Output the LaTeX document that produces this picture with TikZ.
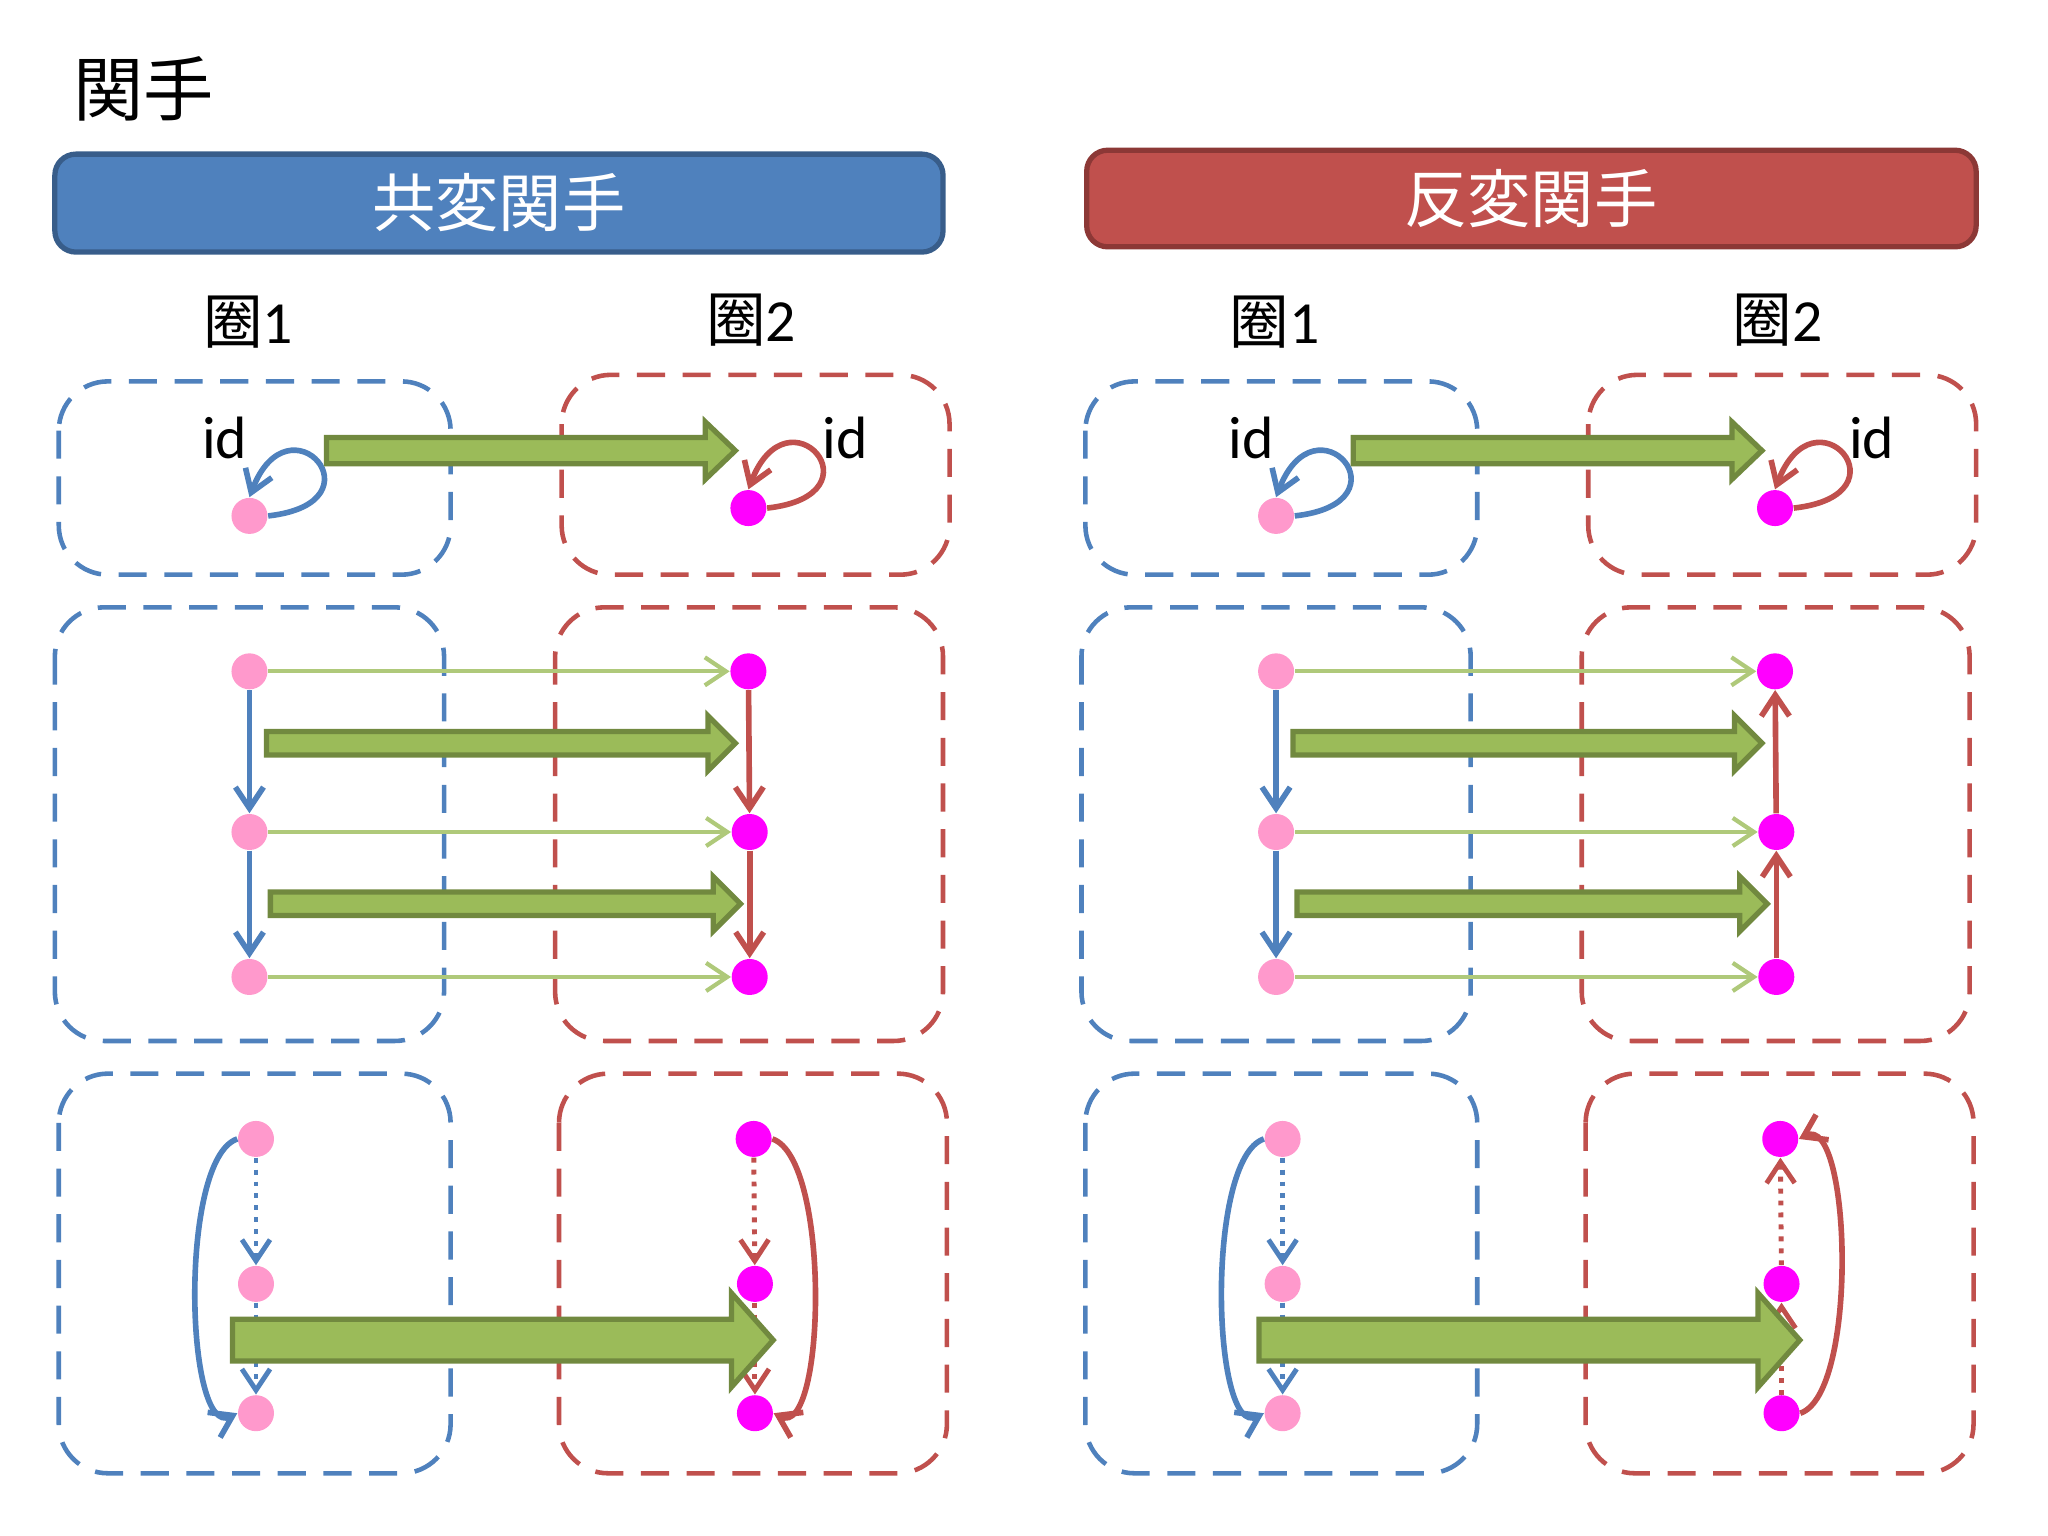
\documentclass[tikz,border=0pt]{standalone}
\usepackage{fontspec}
\setmainfont{Carlito}
\newfontfamily\cjk{Noto Sans CJK JP}
\usetikzlibrary{arrows.meta}
\definecolor{cblue}{HTML}{4F81BD}
\definecolor{cbluedk}{HTML}{385D8A}
\definecolor{cred}{HTML}{C0504D}
\definecolor{creddk}{HTML}{8C3836}
\definecolor{cgreen}{HTML}{9BBB59}
\definecolor{cgreendk}{HTML}{71893F}
\definecolor{cpink}{HTML}{FF99CC}
\definecolor{cmag}{HTML}{FF00FF}
\begin{document}
\begin{tikzpicture}[x=0.01306cm,y=-0.01306cm,
  box/.style={dashed,line width=1.3pt,rounded corners=14pt,dash pattern=on 8pt off 5pt},
  pdot/.style={circle,fill=cpink,inner sep=0pt,minimum size=0.36cm},
  mdot/.style={circle,fill=cmag,inner sep=0pt,minimum size=0.36cm},
  tip/.style={-{Straight Barb[length=6pt,width=8pt]}},
  thin/.style={tip,draw=cgreen!80,line width=1.2pt},
  fat/.style={fill=cgreen,draw=cgreendk,line width=1.5pt},
  lbl/.style={font=\fontsize{17}{17}\selectfont},
  head/.style={rounded corners=6pt,line width=1.5pt,text=white,font=\cjk\fontsize{18}{18}\selectfont}]
\useasboundingbox (0,0) rectangle (1568,1176);
\node[font=\cjk\fontsize{20}{20}\selectfont] (title) at (110,68) {関手};
\draw[head,fill=cblue,draw=cbluedk] (42,118) rectangle (722,193);
\node[head] (hco) at (382,155) {共変関手};
\draw[head,fill=cred,draw=creddk] (832,115) rectangle (1513,189);
\node[head] (hcontra) at (1172,152) {反変関手};
\foreach \o/\s/\k in {0/a/0,786/b/1}{
\begin{scope}[xshift=\o*0.01306cm]
  \node[lbl] (\s c1) at (190,247) {{\cjk 圈}1};
  \node[lbl] (\s c2) at (575,245) {{\cjk 圈}2};
  % boxes
  \draw[box,cblue] (45,292) rectangle (345,440);
  \draw[box,cred] (430,287) rectangle (727,440);
  \draw[box,cblue] (42,465) rectangle (340,797);
  \draw[box,cred] (425,465) rectangle (722,797);
  \draw[box,cblue] (45,822) rectangle (345,1128);
  \draw[box,cred] (428,822) rectangle (725,1128);
  % top row
  \node[pdot] (\s p0) at (191,395) {};
  \node[mdot] (\s m0) at (573,389) {};
  \node[lbl] (\s id1) at (172,335) {id};
  \node[lbl] (\s id2) at (647,335) {id};
  \draw[tip,cblue,line width=1.6pt] (\s p0.east) .. controls +(90,-10) and +(30,-80) .. (\s p0.north);
  \draw[tip,cred,line width=1.6pt] (\s m0.east) .. controls +(90,-10) and +(30,-80) .. (\s m0.north);
  \draw[fat] (250,335) -- (540,335) -- (540,323) -- (563,345) -- (540,367) -- (540,355) -- (250,355) -- cycle;
  % middle row
  \node[pdot] (\s p1) at (191,514) {};
  \node[pdot] (\s p2) at (191,637) {};
  \node[pdot] (\s p3) at (191,748) {};
  \node[mdot] (\s m1) at (573,514) {};
  \node[mdot] (\s m2) at (574,637) {};
  \node[mdot] (\s m3) at (574,748) {};
  \foreach \i in {1,2,3}{\draw[thin] (\s p\i) -- (\s m\i);}
  \draw[tip,cblue,line width=1.6pt] (\s p1) -- (\s p2);
  \draw[tip,cblue,line width=1.6pt] (\s p2) -- (\s p3);
  \ifnum\k=0
    \draw[tip,cred,line width=1.6pt] (\s m1) -- (\s m2);
    \draw[tip,cred,line width=1.6pt] (\s m2) -- (\s m3);
  \else
    \draw[tip,cred,line width=1.6pt] (\s m3) -- (\s m2);
    \draw[tip,cred,line width=1.6pt] (\s m2) -- (\s m1);
  \fi
  \draw[fat] (204,560) -- (542,560) -- (542,548) -- (563,569) -- (542,590) -- (542,578) -- (204,578) -- cycle;
  \draw[fat] (207,683) -- (546,683) -- (546,671) -- (567,692) -- (546,713) -- (546,701) -- (207,701) -- cycle;
  % bottom row
  \node[pdot] (\s q1) at (196,872) {};
  \node[pdot] (\s q2) at (196,983) {};
  \node[pdot] (\s q3) at (196,1082) {};
  \node[mdot] (\s n1) at (577,872) {};
  \node[mdot] (\s n2) at (578,983) {};
  \node[mdot] (\s n3) at (578,1082) {};
  \draw[tip,cblue,line width=1.4pt,dotted] (\s q1) -- (\s q2);
  \draw[tip,cblue,line width=1.4pt,dotted] (\s q2) -- (\s q3);
  \draw[tip,cblue,line width=1.6pt] (\s q1.west) .. controls +(-45,15) and +(-40,20) .. (\s q3.west);
  \ifnum\k=0
    \draw[tip,cred,line width=1.4pt,dotted] (\s n1) -- (\s n2);
    \draw[tip,cred,line width=1.4pt,dotted] (\s n2) -- (\s n3);
    \draw[tip,cred,line width=1.6pt] (\s n1.east) .. controls +(45,15) and +(40,20) .. (\s n3.east);
  \else
    \draw[tip,cred,line width=1.4pt,dotted] (\s n2) -- (\s n1);
    \draw[tip,cred,line width=1.4pt,dotted] (\s n3) -- (\s n2);
    \draw[tip,cred,line width=1.6pt] (\s n3.east) .. controls +(45,-15) and +(40,-20) .. (\s n1.east);
  \fi
  \draw[fat] (178,1010) -- (560,1010) -- (560,990) -- (592,1026) -- (560,1062) -- (560,1042) -- (178,1042) -- cycle;
\end{scope}}
\end{tikzpicture}
\end{document}
